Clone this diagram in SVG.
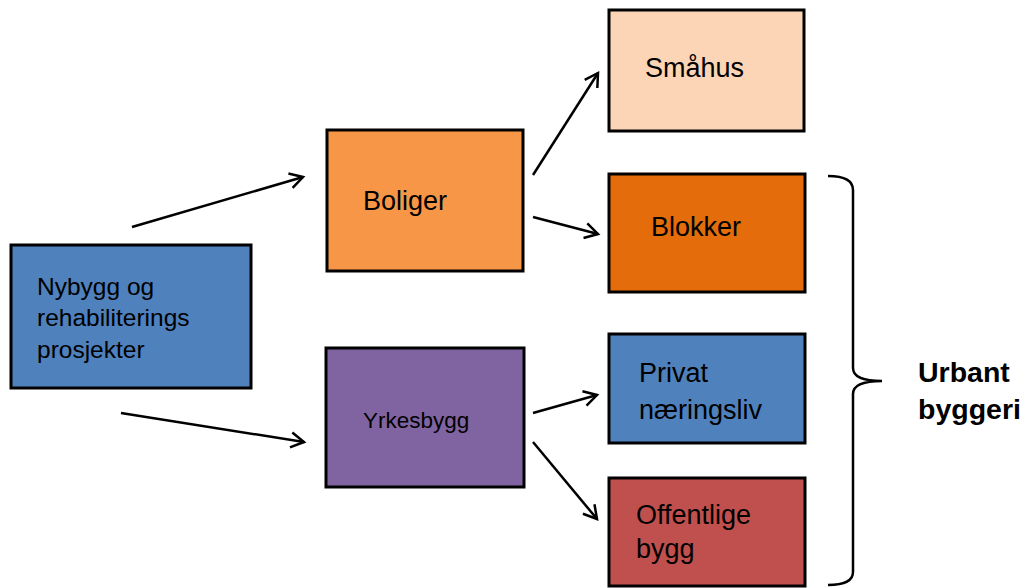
<svg xmlns="http://www.w3.org/2000/svg" width="1026" height="588" viewBox="0 0 1026 588">
  <style>
    .box { stroke: #000; stroke-width: 3; }
    .lbl { font-family: "Liberation Sans", Arial, sans-serif; font-size: 27px; fill: #000; }
    .lbl-s { font-family: "Liberation Sans", Arial, sans-serif; font-size: 22.5px; fill: #000; }
    .lbl-m { font-family: "Liberation Sans", Arial, sans-serif; font-size: 24.5px; fill: #000; }
    .lbl-b { font-family: "Liberation Sans", Arial, sans-serif; font-size: 28.5px; font-weight: bold; fill: #000; }
    .conn { stroke: #000; stroke-width: 2.5; fill: none; marker-end: url(#arrow); }
  </style>
  <defs>
    <marker id="arrow" markerUnits="userSpaceOnUse" markerWidth="20" markerHeight="20" viewBox="-16 -10 20 20" refX="0" refY="0" orient="auto">
      <path d="M-13,-7.5 L0,0 L-13,7.5" fill="none" stroke="#000" stroke-width="2.5" stroke-linejoin="miter"/>
    </marker>
  </defs>
  <rect width="1026" height="588" fill="#fff"/>

  <g id="connectors">
    <line class="conn" x1="132" y1="227" x2="303" y2="177"/>
    <line class="conn" x1="121" y1="413" x2="304" y2="442"/>
    <line class="conn" x1="533" y1="175" x2="598" y2="73"/>
    <line class="conn" x1="533" y1="217" x2="598" y2="234"/>
    <line class="conn" x1="533" y1="413" x2="597" y2="395"/>
    <line class="conn" x1="533" y1="442" x2="597" y2="519"/>
  </g>

  <g id="node-nybygg">
    <rect class="box" x="11" y="245" width="240" height="143" fill="#4F81BD"/>
    <text class="lbl-m" x="37" y="295">Nybygg og</text>
    <text class="lbl-m" x="37" y="326">rehabiliterings</text>
    <text class="lbl-m" x="37" y="358">prosjekter</text>
  </g>

  <g id="node-boliger">
    <rect class="box" x="327" y="130" width="196" height="141" fill="#F79646"/>
    <text class="lbl" x="363" y="210">Boliger</text>
  </g>

  <g id="node-yrkesbygg">
    <rect class="box" x="326" y="348" width="198" height="139" fill="#8064A2"/>
    <text class="lbl-s" x="363" y="428">Yrkesbygg</text>
  </g>

  <g id="node-smahus">
    <rect class="box" x="609" y="10" width="195" height="121" fill="#FBD5B5"/>
    <text class="lbl" x="645" y="77">Småhus</text>
  </g>

  <g id="node-blokker">
    <rect class="box" x="609" y="174" width="196" height="118" fill="#E46C0A"/>
    <text class="lbl" x="651" y="236">Blokker</text>
  </g>

  <g id="node-privat">
    <rect class="box" x="609" y="334" width="196" height="109" fill="#4F81BD"/>
    <text class="lbl" x="639" y="382">Privat</text>
    <text class="lbl" x="639" y="419">næringsliv</text>
  </g>

  <g id="node-offentlige">
    <rect class="box" x="609" y="478" width="196" height="108" fill="#C0504D"/>
    <text class="lbl" x="636" y="524">Offentlige</text>
    <text class="lbl" x="636" y="558">bygg</text>
  </g>

  <g id="brace">
    <path d="M828,176 Q853,176 853,190 L853,368 Q853,381 882,381 Q853,381 853,394 L853,572 Q853,585 828,585" fill="none" stroke="#000" stroke-width="2.5"/>
  </g>

  <g id="label-urbant">
    <text class="lbl-b" x="918" y="382">Urbant</text>
    <text class="lbl-b" x="918" y="419">byggeri</text>
  </g>
</svg>
